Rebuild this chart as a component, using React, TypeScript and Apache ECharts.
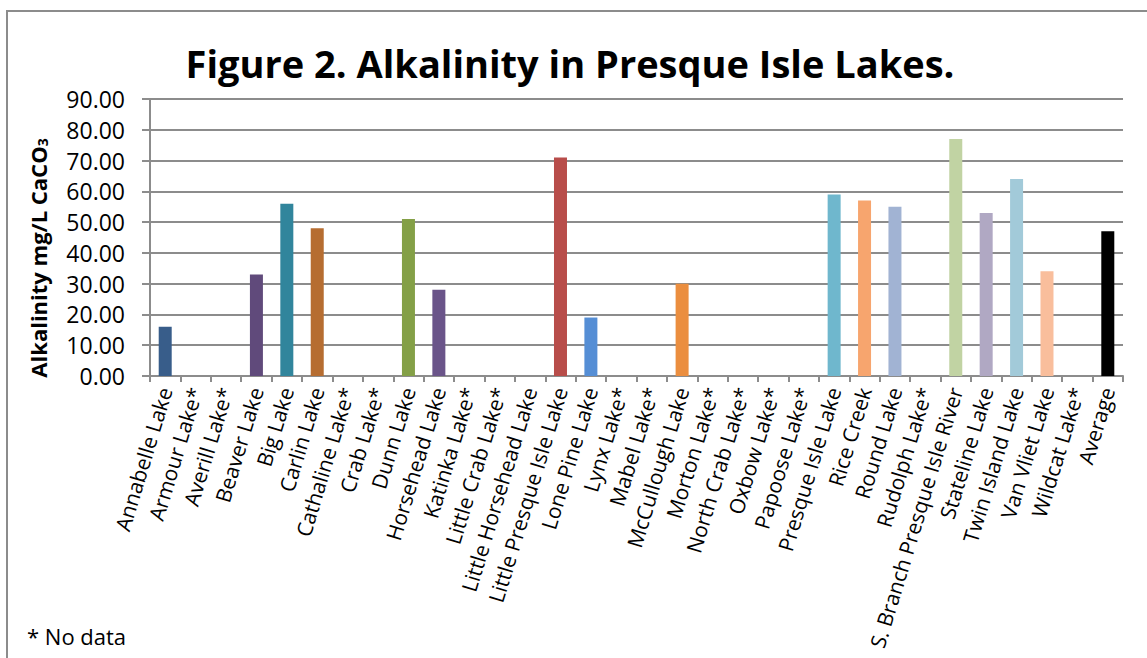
import React, { useEffect, useRef } from "react";
import * as echarts from "echarts";

const categories: string[] = [
  "Annabelle Lake", "Armour Lake*", "Averill Lake*", "Beaver Lake", "Big Lake", "Carlin Lake",
  "Cathaline Lake*", "Crab Lake*", "Dunn Lake", "Horsehead Lake", "Katinka Lake*", "Little Crab Lake*",
  "Little Horsehead Lake", "Little Presque Isle Lake", "Lone Pine Lake", "Lynx Lake*", "Mabel Lake*",
  "McCullough Lake", "Morton Lake*", "North Crab Lake*", "Oxbow Lake*", "Papoose Lake*",
  "Presque Isle Lake", "Rice Creek", "Round Lake", "Rudolph Lake*", "S. Branch Presque Isle River",
  "Stateline Lake", "Twin Island Lake", "Van Vliet Lake", "Wildcat Lake*", "Average",
];

const alkalinity: (number | null)[] = [
  16, null, null, 33, 56, 48,
  null, null, 51, 28, null, null,
  null, 71, 19, null, null,
  30, null, null, null, null,
  59, 57, 55, null, 77,
  53, 64, 34, null, 47,
];

const barColors: string[] = [
  "#385D8A", "#888888", "#888888", "#604A7B", "#31859C", "#B66D31",
  "#888888", "#888888", "#84A047", "#6A5489", "#888888", "#888888",
  "#888888", "#B84D4A", "#558ED5", "#888888", "#888888",
  "#EB8E3F", "#888888", "#888888", "#888888", "#888888",
  "#6FB7CD", "#F7A56E", "#A1B3D3", "#888888", "#C1D3A3",
  "#B0A8C3", "#A2CAD9", "#F9BE9C", "#888888", "#000000",
];

const yTicks = { min: 0, max: 90, interval: 10 };

export default function App() {
  const ref = useRef<HTMLDivElement>(null);
  useEffect(() => {
    document.body.style.margin = "0";
    const chart = echarts.init(ref.current!, null, { renderer: "svg" });
    const fontFamily = "'Open Sans', sans-serif";
    chart.setOption({
      animation: false,
      backgroundColor: "#ffffff",
      grid: { left: 150, right: 24, top: 99, bottom: 282, containLabel: false, outerBoundsMode: "none" },
      graphic: [
        {
          type: "rect",
          shape: { x: 7, y: 11, width: 1160, height: 680 },
          style: { fill: "none", stroke: "#8c8c8c", lineWidth: 2 },
          silent: true,
        },
        {
          type: "text",
          x: 570,
          y: 63,
          style: {
            text: "Figure 2. Alkalinity in Presque Isle Lakes.",
            font: "bold 38px 'Open Sans', sans-serif",
            fill: "#000",
            align: "center",
            verticalAlign: "middle",
          },
        },
        {
          type: "text",
          x: 36,
          y: 258,
          rotation: Math.PI / 2,
          style: {
            text: "{a|Alkalinity mg/L CaCO}{s|3}",
            align: "center",
            verticalAlign: "middle",
            rich: {
              a: { font: "bold 22px 'Open Sans', sans-serif", fill: "#000", verticalAlign: "bottom", lineHeight: 26 },
              s: { font: "bold 14px 'Open Sans', sans-serif", fill: "#000", verticalAlign: "bottom", lineHeight: 18 },
            },
          },
        },
        {
          type: "text",
          x: 27,
          y: 636,
          style: {
            text: "* No data",
            font: "22px 'Open Sans', sans-serif",
            fill: "#000",
            align: "left",
            verticalAlign: "middle",
          },
        },
      ],
      xAxis: {
        type: "category",
        data: categories,
        axisLine: { lineStyle: { color: "#8c8c8c", width: 2 } },
        axisTick: { show: true, alignWithLabel: false, length: 6, lineStyle: { color: "#8c8c8c", width: 2 } },
        axisLabel: {
          interval: 0,
          rotate: 73,
          margin: 12,
          fontFamily,
          fontSize: 21,
          color: "#000",
        },
      },
      yAxis: {
        type: "value",
        min: yTicks.min,
        max: yTicks.max,
        interval: yTicks.interval,
        axisLine: { show: true, lineStyle: { color: "#8c8c8c", width: 2 } },
        axisTick: { show: true, length: 8, lineStyle: { color: "#8c8c8c", width: 2 } },
        splitLine: { lineStyle: { color: "#8c8c8c", width: 2 } },
        axisLabel: {
          fontFamily,
          fontSize: 23,
          color: "#000",
          margin: 25,
          formatter: (v: number) => v.toFixed(2),
        },
      },
      series: [
        {
          type: "bar",
          barWidth: 13,
          data: alkalinity.map((v, i) => ({ value: v, itemStyle: { color: barColors[i] } })),
        },
      ],
    });
    return () => chart.dispose();
  }, []);
  return <div ref={ref} style={{ width: 1147, height: 658 }} />;
}
